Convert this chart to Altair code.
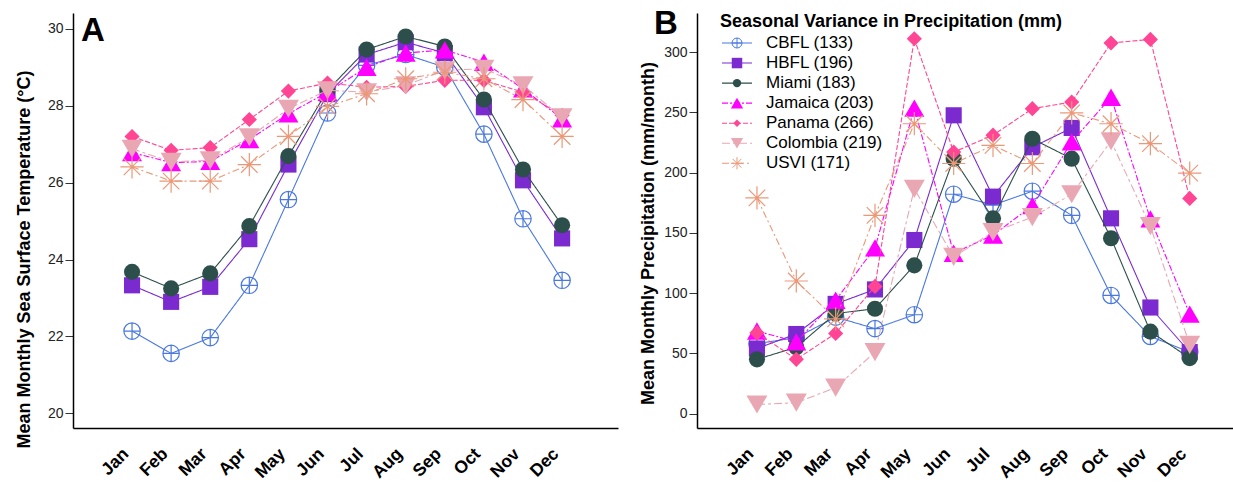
import altair as alt
import pandas as pd

# ---- data -----------------------------------------------------------------
months = ["Jan", "Feb", "Mar", "Apr", "May", "Jun",
          "Jul", "Aug", "Sep", "Oct", "Nov", "Dec"]
sites = ["CBFL", "HBFL", "Miami", "Jamaica", "Panama", "Colombia", "USVI"]
precip_range_mm = [133, 196, 183, 203, 266, 219, 171]

# mean monthly sea surface temperature (deg C)
sst_cbfl = [22.14, 21.56, 21.97, 23.33, 25.56, 27.81, 29.05, 29.33, 29.00, 27.26, 25.06, 23.46]
sst_hbfl = [23.33, 22.90, 23.29, 24.53, 26.47, 28.30, 29.33, 29.65, 29.37, 27.96, 26.06, 24.55]
sst_miami = [23.68, 23.25, 23.64, 24.87, 26.69, 28.40, 29.46, 29.80, 29.54, 28.16, 26.34, 24.89]
sst_jamaica = [26.78, 26.52, 26.55, 27.12, 27.79, 28.35, 29.00, 29.37, 29.45, 29.13, 28.44, 27.66]
sst_panama = [27.20, 26.84, 26.91, 27.64, 28.38, 28.59, 28.48, 28.50, 28.66, 28.66, 28.35, 27.75]
sst_colombia = [26.88, 26.54, 26.58, 27.18, 27.92, 28.40, 28.35, 28.53, 28.92, 28.96, 28.53, 27.70]
sst_usvi = [26.41, 26.04, 26.04, 26.47, 27.20, 27.98, 28.31, 28.70, 28.87, 28.70, 28.16, 27.20]

# mean monthly precipitation (mm/month)
pr_cbfl = [58, 63, 80, 70.5, 82, 182, 173, 184.5, 164.5, 98, 64, 51]
pr_hbfl = [54, 66, 91, 103, 144, 247.5, 180, 221, 237, 162, 88, 51]
pr_miami = [45, 55, 83, 87, 123, 211.5, 162, 228, 211.5, 145.5, 68, 46]
pr_jamaica = [68.5, 59.5, 94, 137.5, 253.5, 133, 148, 172.5, 225.5, 262.5, 161.5, 82.5]
pr_panama = [67, 45, 66.5, 105.5, 311, 217, 231, 253, 258.5, 307.5, 310.5, 178.5]
pr_colombia = [7.5, 9, 21.5, 51, 186.5, 130, 150.5, 163, 182, 226, 155.5, 57]
pr_usvi = [179, 110, 78.5, 164.5, 240.5, 207.5, 222.5, 207.5, 249.5, 240.5, 224, 199.5]

sst_series = [sst_cbfl, sst_hbfl, sst_miami, sst_jamaica, sst_panama, sst_colombia, sst_usvi]
pr_series = [pr_cbfl, pr_hbfl, pr_miami, pr_jamaica, pr_panama, pr_colombia, pr_usvi]


def long_table(series):
    rows = []
    for site, values in zip(sites, series):
        for i, v in enumerate(values):
            rows.append({"site": site, "month": i + 1, "value": v})
    return pd.DataFrame(rows)


sst_df = long_table(sst_series)
pr_df = long_table(pr_series)
month_df = pd.DataFrame({"month": range(1, 13), "name": months})

# ---- styles ---------------------------------------------------------------
CIRCLE_PLUS = "M-1,0A1,1 0 1,1 1,0A1,1 0 1,1 -1,0ZM-1,0L1,0M0,-1L0,1"
ASTERISK = "M-1,0L1,0M0,-1L0,1M-0.71,-0.71L0.71,0.71M-0.71,0.71L0.71,-0.71"

style = {
    "CBFL": dict(color="#4a78e0", dash=[1, 0], shape=CIRCLE_PLUS, filled=False, size=270, lsize=100),
    "HBFL": dict(color="#7b2ad0", dash=[1, 0], shape="square", filled=True, size=260, lsize=110),
    "Miami": dict(color="#2d4f4c", dash=[1, 0], shape="circle", filled=True, size=260, lsize=70),
    "Jamaica": dict(color="#ff00ff", dash=[6, 2, 2, 2], shape="triangle-up", filled=True, size=400, lsize=150),
    "Panama": dict(color="#ff4593", dash=[5, 2], shape="diamond", filled=True, size=230, lsize=55),
    "Colombia": dict(color="#e9a7b3", dash=[8, 3, 3, 3], shape="triangle-down", filled=True, size=440, lsize=150),
    "USVI": dict(color="#eb9878", dash=[7, 3, 2, 3], shape=ASTERISK, filled=False, size=540, lsize=150),
}

FONT = "Liberation Sans"
PLOT_H = 415


def x_enc(domain):
    return alt.X(
        "month:Q",
        scale=alt.Scale(domain=domain, nice=False, zero=False),
        axis=alt.Axis(values=list(range(1, 13)), labels=False, title=None, ticks=False,
                      domainColor="black", domainWidth=1.5, grid=False),
    )


def y_enc(domain, values, title, title_y):
    return alt.Y(
        "value:Q",
        scale=alt.Scale(domain=domain, nice=False, zero=False),
        axis=alt.Axis(values=values, format="d", title=title, grid=False,
                      tickSize=8, tickColor="#333333", tickWidth=1,
                      labelFontSize=14, labelColor="#222222", labelPadding=2, labelFont=FONT,
                      titleFontSize=18, titleFontWeight="bold", titleColor="black", titleFont=FONT,
                      titleAngle=270, titleX=-49, titleY=title_y,
                      titleAlign="center", titleBaseline="middle",
                      domainColor="black", domainWidth=1.5),
    )


def series_layers(df, xe, ye):
    layers = []
    for site in sites:
        s = style[site]
        sub = df[df["site"] == site]
        base = alt.Chart(sub)
        layers.append(base.mark_line(color=s["color"], strokeDash=s["dash"], strokeWidth=1.1)
                      .encode(x=xe, y=ye))
        layers.append(base.mark_point(shape=s["shape"], filled=s["filled"], size=s["size"],
                                      color=s["color"], opacity=1,
                                      strokeWidth=1.2 if not s["filled"] else 0)
                      .encode(x=xe, y=ye))
    return layers


def month_labels(xe):
    # month names slanted at 45 degrees under the x axis (dx/dy act in the rotated frame)
    return alt.Chart(month_df).mark_text(
        font=FONT, fontSize=17.5, fontWeight="bold", angle=315, align="right",
        baseline="middle", color="black", dx=-4.2, dy=-4.2).encode(
        x=xe, y=alt.value(PLOT_H + 23.5), text="name:N")


def panel_letter(letter, px, py):
    return alt.Chart(pd.DataFrame({"t": [letter]})).mark_text(
        font=FONT, fontSize=33, fontWeight="bold", align="left", baseline="alphabetic",
        color="black").encode(text="t:N", x=alt.value(px), y=alt.value(py))


# ---- panel A: sea surface temperature -------------------------------------
xa = x_enc([-0.51, 13.43])
ya = y_enc([19.62, 30.41], [20, 22, 24, 26, 28, 30],
           "Mean Monthly Sea Surface Temperature (\u00b0C)", 246)
panel_a = alt.layer(*series_layers(sst_df, xa, ya), month_labels(xa),
                    panel_letter("A", 8, 28)).properties(width=545, height=PLOT_H)

# ---- panel B: precipitation -----------------------------------------------
xb = x_enc([-0.524, 13.10])
yb = y_enc([-12, 332.4], [0, 50, 100, 150, 200, 250, 300],
           "Mean Monthly Precipitation (mm/month)", 220)

legend_layers = [
    alt.Chart(pd.DataFrame({"t": ["Seasonal Variance in Precipitation (mm)"]})).mark_text(
        font=FONT, fontSize=18, fontWeight="bold", align="left", baseline="alphabetic",
        color="black").encode(text="t:N", x=alt.value(23), y=alt.value(14))
]
legend_df = pd.DataFrame({"site": sites,
                          "label": [f"{s} ({v})" for s, v in zip(sites, precip_range_mm)]})
for i, site in enumerate(sites):
    s = style[site]
    row = alt.Chart(legend_df[legend_df["site"] == site])
    yy = 30 + 20.05 * i
    legend_layers.append(row.mark_rule(color=s["color"], strokeDash=s["dash"], strokeWidth=1.1)
                         .encode(x=alt.value(25), x2=alt.value(55), y=alt.value(yy)))
    legend_layers.append(row.mark_point(shape=s["shape"], filled=s["filled"], size=s["lsize"],
                                        color=s["color"], opacity=1,
                                        strokeWidth=1 if not s["filled"] else 0)
                         .encode(x=alt.value(40), y=alt.value(yy)))
    legend_layers.append(row.mark_text(font=FONT, fontSize=17, align="left", baseline="middle",
                                       color="black")
                         .encode(text="label:N", x=alt.value(69), y=alt.value(yy)))

panel_b = alt.layer(*series_layers(pr_df, xb, yb), month_labels(xb), panel_letter("B", -43, 21),
                    *legend_layers).properties(width=536, height=PLOT_H)

chart = alt.hconcat(panel_a, panel_b, spacing=20).properties(
    padding={"left": 14, "top": 8, "right": 0, "bottom": 0}
).configure_view(stroke=None)

chart.save("out.html", embed_options={"renderer": "svg", "actions": False})
